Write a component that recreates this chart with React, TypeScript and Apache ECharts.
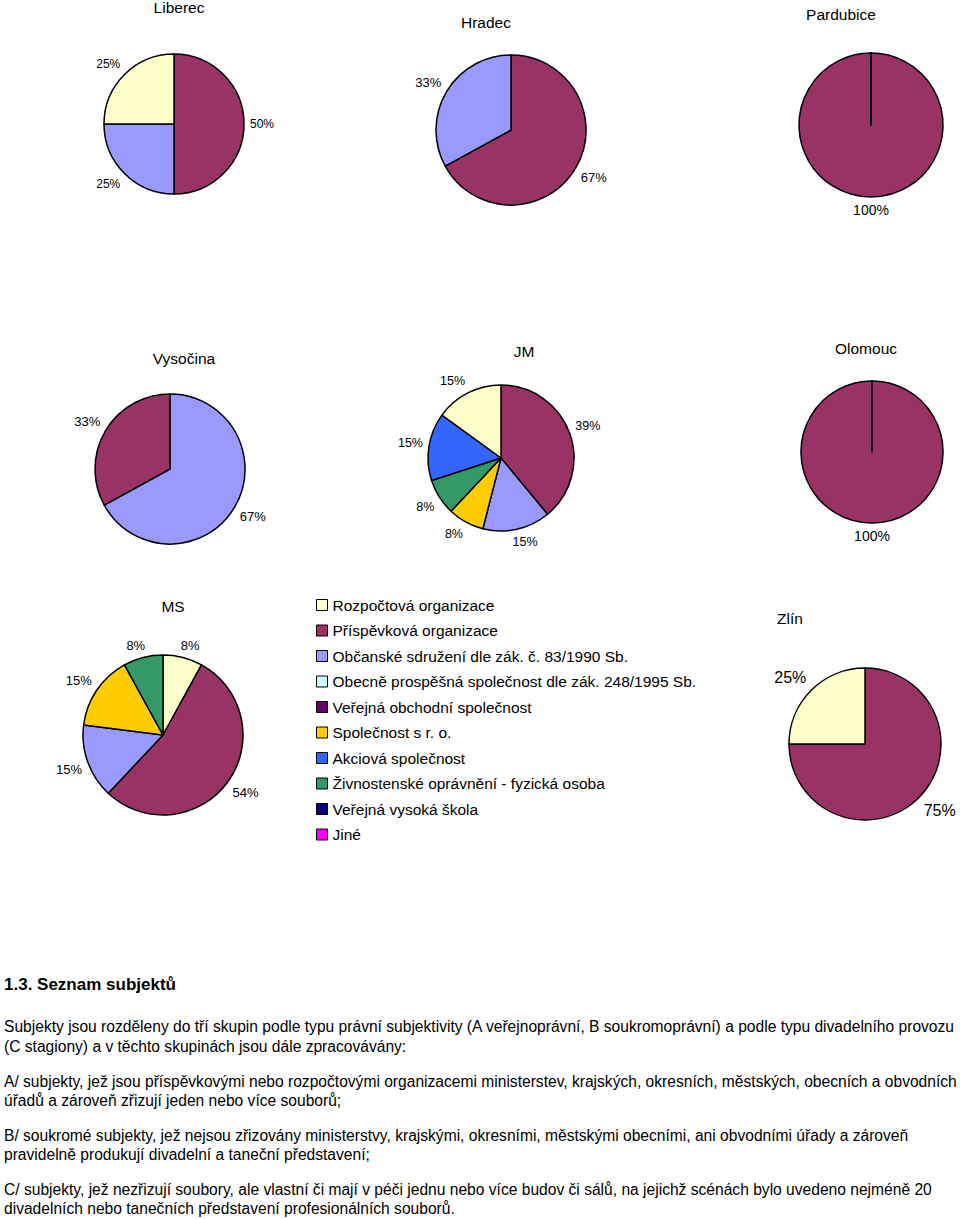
import React, { useEffect, useRef } from "react";
import * as echarts from "echarts";

const FONT = "'Liberation Sans', Arial, sans-serif";

// Legend categories (legend order) and their colours
const categories = [
  "Rozpočtová organizace",
  "Příspěvková organizace",
  "Občanské sdružení dle zák. č. 83/1990 Sb.",
  "Obecně prospěšná společnost dle zák. 248/1995 Sb.",
  "Veřejná obchodní společnost",
  "Společnost s r. o.",
  "Akciová společnost",
  "Živnostenské oprávnění - fyzická osoba",
  "Veřejná vysoká škola",
  "Jiné",
];
const colors = ["#FFFFCC", "#993366", "#9999FF", "#CCFFFF", "#660066", "#FFCC00", "#3366FF", "#339966", "#000080", "#FF00FF"];

// Per region: category indices in clockwise order from 12 o'clock, and shares (%)
const liberecCats = [1, 2, 0];
const liberecVals = [50, 25, 25];
const hradecCats = [1, 2];
const hradecVals = [67, 33];
const pardubiceCats = [1, 0, 2, 3, 4, 5, 6, 7, 8, 9];
const pardubiceVals = [100, 0, 0, 0, 0, 0, 0, 0, 0, 0];
const vysocinaCats = [2, 1];
const vysocinaVals = [67, 33];
const jmCats = [1, 2, 5, 7, 6, 0];
const jmVals = [39, 15, 8, 8, 15, 15];
const olomoucCats = [1, 0];
const olomoucVals = [100, 0];
const msCats = [0, 1, 2, 5, 7];
const msVals = [8, 54, 15, 15, 8];
const zlinCats = [1, 0];
const zlinVals = [75, 25];

const regionNames = ["Liberec", "Hradec", "Pardubice", "Vysočina", "JM", "Olomouc", "MS", "Zlín"];
const regionCats = [liberecCats, hradecCats, pardubiceCats, vysocinaCats, jmCats, olomoucCats, msCats, zlinCats];
const regionVals = [liberecVals, hradecVals, pardubiceVals, vysocinaVals, jmVals, olomoucVals, msVals, zlinVals];

// Layout of each small chart (pie centre, radius, title centre, font sizes)
const pieCenters: [number, number][] = [
  [174, 124], [511, 130], [871, 125],
  [170, 469], [501, 458], [872, 452],
  [163, 735], [865, 744],
];
const pieRadii = [70, 75, 72, 75, 73, 71, 80, 76];
const titlePos: [number, number][] = [
  [179, 7], [486, 22], [841, 14],
  [184, 358], [524, 351], [866, 348],
  [173, 606], [790, 618],
];
const labelFont = [12, 13, 14, 13, 12.5, 14, 13, 16];
const labelGap = [6, 6, 6, 6, 6, 6, 6, 7];

const heading = "1.3. Seznam subjektů";
const bodyLines = [
  "Subjekty jsou rozděleny do tří skupin podle typu právní subjektivity (A veřejnoprávní, B soukromoprávní) a podle typu divadelního provozu",
  "(C stagiony) a v těchto skupinách jsou dále zpracovávány:",
  "A/ subjekty, jež jsou příspěvkovými nebo rozpočtovými organizacemi ministerstev, krajských, okresních, městských, obecních a obvodních",
  "úřadů a zároveň zřizují jeden nebo více souborů;",
  "B/ soukromé subjekty, jež nejsou zřizovány ministerstvy, krajskými, okresními, městskými obecními, ani obvodními úřady a zároveň",
  "pravidelně produkují divadelní a taneční představení;",
  "C/ subjekty, jež nezřizují soubory, ale vlastní či mají v péči jednu nebo více budov či sálů, na jejichž scénách bylo uvedeno nejméně 20",
  "divadelních nebo tanečních představení profesionálních souborů.",
];
const bodyLineY = [1026, 1046, 1081, 1100, 1135, 1154, 1189, 1208];

function makeLabelLayout(vals: number[], cx: number, cy: number, r: number, gap: number) {
  const total = vals.reduce((a, b) => a + b, 0);
  return (params: any) => {
    const i = params.dataIndex;
    let cum = 0;
    for (let k = 0; k < i; k++) cum += vals[k];
    const theta = (2 * Math.PI * (cum + vals[i] / 2)) / total;
    const dx = Math.sin(theta);
    const dy = -Math.cos(theta);
    const w = params.labelRect.width;
    const h = params.labelRect.height;
    const sx = Math.max(-1, Math.min(1, dx * 2.5));
    const sy = Math.max(-1, Math.min(1, dy * 2.5));
    return {
      x: cx + (r + gap) * dx + (sx * w) / 2,
      y: cy + (r + gap) * dy + (sy * h) / 2,
      align: "center",
      verticalAlign: "middle",
    };
  };
}

export default function App() {
  const ref = useRef<HTMLDivElement>(null);
  useEffect(() => {
    if (!ref.current) return;
    const chart = echarts.init(ref.current, undefined, { renderer: "svg" });

    const series = regionNames.map((name, s) => {
      const [cx, cy] = pieCenters[s];
      const r = pieRadii[s];
      const cats = regionCats[s];
      const vals = regionVals[s];
      return {
        type: "pie",
        name,
        center: [cx, cy],
        radius: r,
        startAngle: 90,
        clockwise: true,
        avoidLabelOverlap: false,
        silent: true,
        emphasis: { disabled: true },
        itemStyle: { borderColor: "#000", borderWidth: 1.5 },
        label: {
          show: true,
          position: "outside",
          formatter: (p: any) => (p.value > 0 ? p.value + "%" : ""),
          fontSize: labelFont[s],
          fontFamily: FONT,
          color: "#000",
        },
        labelLine: { show: false },
        labelLayout: makeLabelLayout(vals, cx, cy, r, labelGap[s]),
        data: cats.map((c, i) => ({
          name: categories[c],
          value: vals[i],
          itemStyle: { color: colors[c] },
          label: { show: vals[i] > 0 },
        })),
      };
    });

    const graphics: any[] = [
      ...regionNames.map((name, s) => ({
        type: "text",
        x: titlePos[s][0],
        y: titlePos[s][1],
        style: {
          text: name,
          fontSize: 15.5,
          fontWeight: "normal",
          fontFamily: FONT,
          fill: "#000",
          align: "center",
          verticalAlign: "middle",
        },
      })),
      {
        type: "text",
        x: 4,
        y: 984,
        style: { text: heading, fontSize: 17, fontWeight: "bold", fontFamily: FONT, fill: "#000", verticalAlign: "middle" },
      },
      ...bodyLines.map((t, i) => ({
        type: "text",
        x: 4,
        y: bodyLineY[i],
        style: { text: t, fontSize: 15.6, fontFamily: FONT, fill: "#000", verticalAlign: "middle" },
      })),
    ];

    chart.setOption({
      animation: false,
      backgroundColor: "#fff",
      legend: {
        orient: "vertical",
        left: 316,
        top: 597,
        padding: 0,
        itemWidth: 11,
        itemHeight: 11,
        itemGap: 9.5,
        icon: "rect",
        selectedMode: false,
        data: categories,
        itemStyle: { borderColor: "#000", borderWidth: 1 },
        textStyle: { fontSize: 15.5, fontFamily: FONT, color: "#000" },
      },
      series,
      graphic: graphics,
    } as any);

    return () => chart.dispose();
  }, []);

  return (
    <div
      ref={ref}
      style={{ position: "absolute", left: 0, top: 0, width: 960, height: 1219, background: "#fff" }}
    />
  );
}
